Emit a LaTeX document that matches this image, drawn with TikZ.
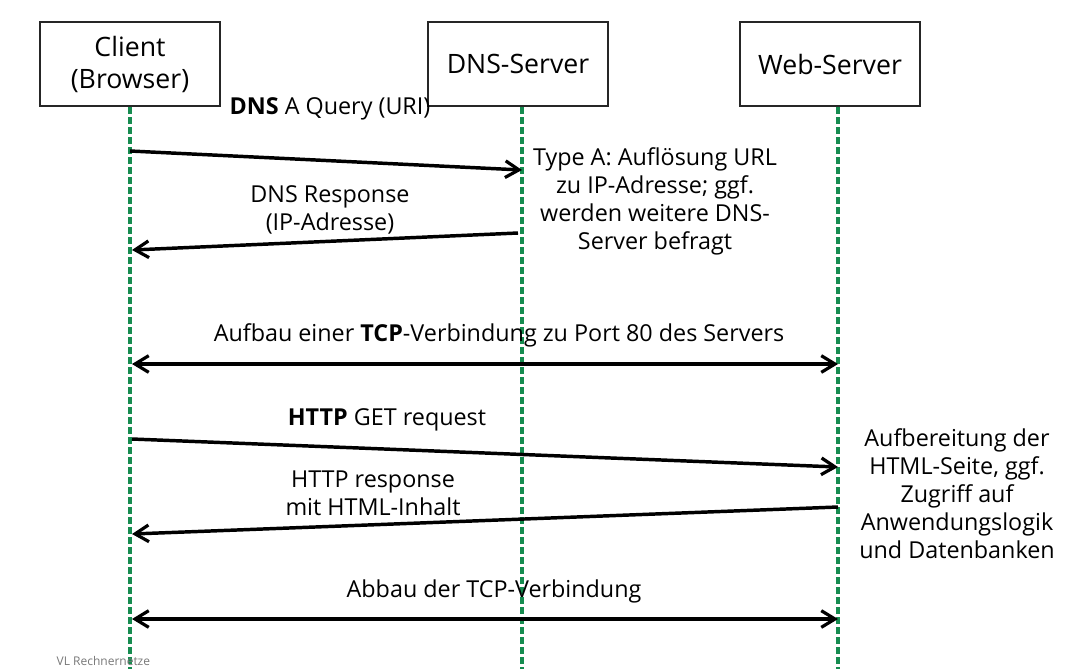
\documentclass[tikz,border=0pt]{standalone}
\usepackage{fontspec}
\setmainfont{Open Sans}
\usetikzlibrary{positioning, arrows.meta}
\definecolor{lifegreen}{RGB}{22,140,80}
\definecolor{footgray}{RGB}{120,120,120}

\begin{document}
\begin{tikzpicture}[x=0.75pt, y=-0.75pt,
    party/.style={rectangle, draw=black!85, line width=1.2pt,
                  minimum width=135pt, minimum height=63pt,
                  align=center, font=\fontsize{20}{24}\selectfont},
    lifeline/.style={draw=lifegreen, line width=2.6pt,
                     dash pattern=on 5.25pt off 2.25pt},
    msg/.style={-{Straight Barb[length=3.6mm, width=4.4mm, line width=2.4pt]},
                line width=2.6pt},
    duplex/.style={{Straight Barb[length=3.6mm, width=4.4mm, line width=2.4pt]}-{Straight Barb[length=3.6mm, width=4.4mm, line width=2.4pt]},
                line width=2.6pt},
    lbl/.style={align=center, font=\fontsize{17.5}{21}\selectfont},
]
\useasboundingbox (0,0) rectangle (1073,668);

% --- participants ---------------------------------------------------
\node[party] (client) at (130,64) {Client\\(Browser)};
\node[party] (dns)    at (518,64) {DNS-Server};
\node[party] (web)    at (830,64) {Web-Server};

% lifelines
\coordinate (cTop) at (130,107);  \coordinate (cBot) at (130,672);
\coordinate (dTop) at (522,107);  \coordinate (dBot) at (522,672);
\coordinate (wTop) at (838,107);  \coordinate (wBot) at (838,672);
\draw[lifeline] (cTop) -- (cBot);
\draw[lifeline] (dTop) -- (dBot);
\draw[lifeline] (wTop) -- (wBot);

% --- DNS lookup -----------------------------------------------------
\coordinate (q1) at (130,151);  \coordinate (q2) at (522,170);
\draw[msg] (q1) -- (q2);
\node[lbl] (qlbl) at (330,109) {\textbf{DNS} A Query (URI)};

\coordinate (r1) at (518,233);  \coordinate (r2) at (132,250);
\draw[msg] (r1) -- (r2);
\node[lbl] (rlbl) at (330,210) {DNS Response\\(IP-Adresse)};

\node[lbl] (dnsnote) at (655,201)
  {Type A: Auflösung URL\\zu IP-Adresse; ggf.\\werden weitere DNS-\\Server befragt};

% --- TCP setup ------------------------------------------------------
\coordinate (t1) at (132,364);  \coordinate (t2) at (838,364);
\draw[duplex] (t1) -- (t2);
\node[lbl] (tlbl) at (499,335) {Aufbau einer \textbf{TCP}-Verbindung zu Port 80 des Servers};

% --- HTTP -----------------------------------------------------------
\coordinate (h1) at (132,439);  \coordinate (h2) at (838,467);
\draw[msg] (h1) -- (h2);
\node[lbl] (hlbl) at (387,420) {\textbf{HTTP} GET request};

\coordinate (a1) at (838,507);  \coordinate (a2) at (132,534);
\draw[msg] (a1) -- (a2);
\node[lbl] (albl) at (373,493) {HTTP response\\mit HTML-Inhalt};

\node[lbl] (webnote) at (957,494)
  {Aufbereitung der\\HTML-Seite, ggf.\\Zugriff auf\\Anwendungslogik\\und Datenbanken};

% --- TCP teardown ---------------------------------------------------
\coordinate (e1) at (132,619);  \coordinate (e2) at (838,619);
\draw[duplex] (e1) -- (e2);
\node[lbl] (elbl) at (494,591) {Abbau der TCP-Verbindung};

% footer
\node[font=\fontsize{9}{10}\selectfont, text=footgray, anchor=west] (foot)
  at (52,661) {VL Rechnernetze};
\end{tikzpicture}
\end{document}
